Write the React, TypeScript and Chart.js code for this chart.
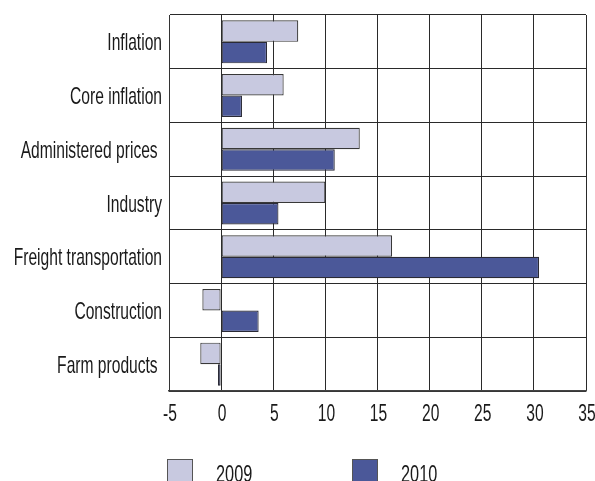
import React, { useEffect, useRef } from "react";
import { Chart, registerables } from "chart.js";

Chart.register(...registerables);

const categories = [
  "Inflation",
  "Core inflation",
  "Administered prices ",
  "Industry",
  "Freight transportation",
  "Construction",
  "Farm products ",
];
const series2009 = [7.4, 6.0, 13.3, 10.0, 16.4, -1.8, -2.0];
const series2010 = [4.4, 2.0, 10.9, 5.5, 30.5, 3.6, -0.3];
const seriesLabels = ["2009", "2010"];
const xMin = -5;
const xMax = 35;
const xStep = 5;

const FONT = "'Liberation Sans', Arial, sans-serif";
const FONT_SIZE = 24;
const SX = 0.65; // horizontal condensing of text
const COLORS = ["#c8c9e0", "#4b5899"];

function drawCondensed(ctx: any, text: string, x: number, y: number, align: "left" | "right" | "center", sx = SX) {
  ctx.save();
  ctx.translate(x, y);
  ctx.scale(sx, 1);
  ctx.textAlign = align;
  ctx.textBaseline = "alphabetic";
  ctx.fillText(text, 0, 0);
  ctx.restore();
}

const textPlugin = {
  id: "condensedText",
  afterDraw(chart: any) {
    const ctx = chart.ctx;
    const area = chart.chartArea;
    ctx.save();
    ctx.fillStyle = "#1a1a1a";
    ctx.font = `${FONT_SIZE}px ${FONT}`;
    // y axis category labels
    const ys = chart.scales.y;
    ys.ticks.forEach((t: any, i: number) => {
      const py = ys.getPixelForTick(i);
      const label = chart.data.labels[t.value ?? i];
      drawCondensed(ctx, String(label), area.left - 7, py + 8.6, "right");
    });
    // x axis tick labels
    const xs = chart.scales.x;
    xs.ticks.forEach((t: any) => {
      const px = xs.getPixelForValue(t.value);
      drawCondensed(ctx, String(t.value), px + 1, area.bottom + 29.5, "center");
    });
    // legend
    const boxX = [167, 352];
    const textX = [216, 401];
    chart.data.datasets.forEach((ds: any, i: number) => {
      ctx.fillStyle = ds.backgroundColor;
      ctx.fillRect(boxX[i], 459, 25, 26);
      ctx.strokeStyle = "#555";
      ctx.lineWidth = 1;
      ctx.strokeRect(boxX[i] + 0.5, 459.5, 25, 26);
      ctx.fillStyle = "#1a1a1a";
      drawCondensed(ctx, String(ds.label), textX[i], 482, "left", 0.68);
    });
    ctx.restore();
  },
};

export default function App() {
  const ref = useRef<HTMLCanvasElement>(null);
  useEffect(() => {
    if (!ref.current) return;
    const chart = new Chart(ref.current, {
      type: "bar",
      data: {
        labels: categories,
        datasets: [
          {
            label: seriesLabels[0],
            data: series2009,
            backgroundColor: COLORS[0],
            borderColor: "#383838",
            borderWidth: 1.2,
            borderSkipped: false,
          },
          {
            label: seriesLabels[1],
            data: series2010,
            backgroundColor: COLORS[1],
            borderColor: "#2a2a35",
            borderWidth: 1.2,
            borderSkipped: false,
          },
        ],
      },
      options: {
        indexAxis: "y",
        responsive: false,
        animation: false,
        devicePixelRatio: 1,
        layout: { padding: { top: 15, right: 9, bottom: 60, left: 0 } },
        datasets: { bar: { categoryPercentage: 0.8, barPercentage: 1.0 } },
        plugins: {
          legend: { display: false },
          tooltip: { enabled: false },
        },
        scales: {
          x: {
            min: xMin,
            max: xMax,
            ticks: { stepSize: xStep, display: false },
            grid: { color: "#2a2a2a", lineWidth: 1, drawTicks: false },
            border: { color: "#444", width: 1.5 },
            afterFit(scale: any) {
              scale.height = 30;
            },
          },
          y: {
            ticks: { display: false },
            grid: { color: "#2a2a2a", lineWidth: 1, drawTicks: false, offset: true },
            border: { color: "#333", width: 1 },
            afterFit(scale: any) {
              scale.width = 169;
            },
          },
        },
      },
      plugins: [textPlugin],
    });
    return () => chart.destroy();
  }, []);
  return (
    <div style={{ position: "absolute", left: 0, top: 0, width: 595, height: 481, overflow: "hidden", background: "#fff" }}>
      <canvas ref={ref} width={595} height={481} />
    </div>
  );
}
